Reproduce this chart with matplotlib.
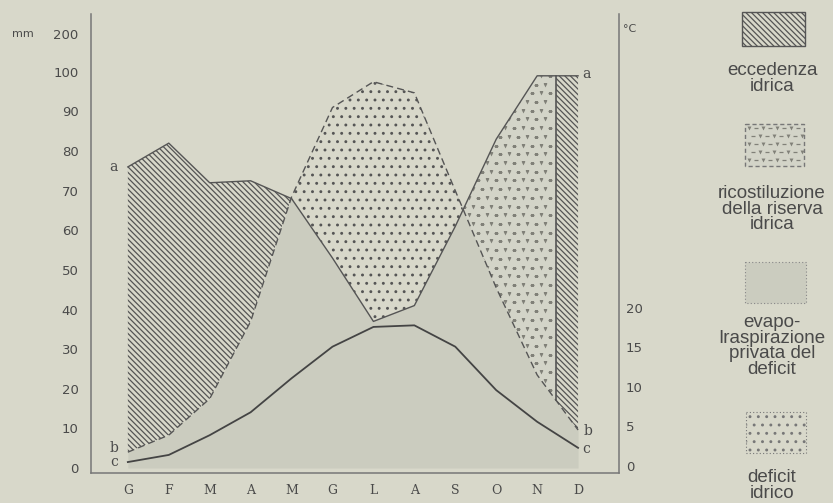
import matplotlib.pyplot as plt
import numpy as np
from matplotlib.patches import Rectangle

# --- data ----------------------------------------------------------------
months = ["G", "F", "M", "A", "M", "G", "L", "A", "S", "O", "N", "D"]
precip_mm = [76, 82, 72, 72.5, 68, 53, 37, 41, 61, 83, 99, 99]             # curve a
pet_mm = [4, 8.3, 17.5, 37, 68.4, 91, 97.5, 94.7, 70, 45.5, 23.5, 9.6]     # curve b
temp_c = [0.5, 1.4, 3.9, 6.8, 11.1, 15.1, 17.6, 17.8, 15.1, 9.6, 5.6, 2.3]  # curve c
reserve_full_x = 10.45  # month position where the soil reserve is refilled

mm_ticks = [0, 10, 20, 30, 40, 50, 60, 70, 80, 90, 100, 109.6]
mm_labels = ["0", "10", "20", "30", "40", "50", "60", "70", "80", "90", "100", "200"]
c_ticks = [0, 5, 10, 15, 20]
legend_labels = [
    "eccedenza\nidrica",
    "ricostiluzione\ndella riserva\nidrica",
    "evapo-\nIraspirazione\nprivata del\ndeficit",
    "deficit\nidrico",
]

BG = "#d8d8ca"
SHADE = "#cbccbf"
INK = "#555555"
TEXT = "#4a4a4a"
HATCH = "\\" * 6

plt.rcParams["hatch.color"] = INK
plt.rcParams["hatch.linewidth"] = 0.9

x = np.arange(len(months))
P = np.array(precip_mm)
E = np.array(pet_mm)

fig = plt.figure(figsize=(8.33, 5.03), dpi=100, facecolor=BG)
ax = fig.add_axes([91 / 833, 30 / 503, 528 / 833, 459 / 503])
ax.set_facecolor(BG)
ax.set_xlim(-0.9, 12.0)
ax.set_ylim(-1.26, 114.6)


def texture(axis, x0, x1, y0, y1, dx, dy, clip_path, color, size):
    """Little triangles and dashes used for the 'ricostituzione' pattern."""
    cols = np.arange(x0, x1, dx)
    rows = np.arange(y0, y1, dy)
    xs_v, ys_v, xs_d, ys_d = [], [], [], []
    for r, yy in enumerate(rows):
        shift = dx / 2 if r % 2 else 0
        for c, xx in enumerate(cols):
            if (c + r) % 2 == 0:
                xs_v.append(xx + shift)
                ys_v.append(yy)
            else:
                xs_d.append(xx + shift)
                ys_d.append(yy)
    a = axis.scatter(xs_v, ys_v, marker="v", s=size, color=color, linewidths=0, zorder=3)
    b = axis.scatter(xs_d, ys_d, marker="_", s=size, color=color, linewidths=0.9, zorder=3)
    for art in (a, b):
        art.set_clip_path(clip_path)


# evapotraspirazione (soft grey under PET)
ax.fill_between(x, 0, E, color=SHADE, lw=0, zorder=1)

# eccedenza Jan-May
ax.fill_between(x[:5], P[:5], E[:5], where=P[:5] >= E[:5], interpolate=True,
                facecolor=BG, edgecolor=INK, hatch=HATCH, lw=0, zorder=2)

# deficit idrico
ax.fill_between(x, E, P, where=E >= P, interpolate=True,
                facecolor=BG, edgecolor=INK, hatch="..", lw=0, zorder=2)

# autumn surplus: recharge left of reserve_full_x, excess right of it
recharge = ax.fill_between(x[8:], P[8:], E[8:], where=P[8:] >= E[8:], interpolate=True,
                           facecolor="#d3d4c8", lw=0, zorder=2)
recharge.set_clip_path(Rectangle((-5, -10), reserve_full_x + 5, 200, transform=ax.transData))
excess = ax.fill_between(x[8:], P[8:], E[8:], where=P[8:] >= E[8:], interpolate=True,
                         facecolor=BG, edgecolor=INK, hatch=HATCH, lw=0, zorder=2)
excess.set_clip_path(Rectangle((reserve_full_x, -10), 5, 200, transform=ax.transData))
texture(ax, 8.0, reserve_full_x - 0.1, 0, 105, 0.22, 2.2,
        (recharge.get_paths()[0], ax.transData), "#808078", 8)

# curves
ax.plot(x, P, color=INK, lw=1.0, zorder=4)
ax.plot(x, E, color=INK, lw=1.0, ls=(0, (5, 3)), zorder=4)
ax.plot([reserve_full_x, reserve_full_x],
        [np.interp(reserve_full_x, x, E), np.interp(reserve_full_x, x, P)],
        color=INK, lw=1.2, zorder=4)

ax.set_xticks(x)
ax.set_xticklabels(months, family="DejaVu Serif", fontsize=9, color=TEXT)
ax.set_yticks(mm_ticks)
ax.set_yticklabels(mm_labels, fontsize=9.5, color=TEXT)
ax.tick_params(axis="y", length=0, pad=9)
ax.tick_params(axis="x", length=0, pad=8)
for side in ("top", "right"):
    ax.spines[side].set_visible(False)
for side in ("left", "bottom"):
    ax.spines[side].set_color("#777777")
    ax.spines[side].set_linewidth(1.1)

# temperature on the right axis
ax2 = ax.twinx()
ax2.set_ylim(-0.886, 57.2)
ax2.plot(x, temp_c, color="#444444", lw=1.3, zorder=4)
ax2.set_yticks(c_ticks)
ax2.set_yticklabels([str(t) for t in c_ticks], fontsize=9.5, color=TEXT)
ax2.tick_params(axis="y", length=0, pad=5)
for side in ("top", "left", "bottom"):
    ax2.spines[side].set_visible(False)
ax2.spines["right"].set_color("#777777")
ax2.spines["right"].set_linewidth(1.1)

# curve letters
lab = dict(family="DejaVu Serif", fontsize=10, color=TEXT, va="center")
ax.annotate("a", (x[0], P[0]), xytext=(-7, 0), textcoords="offset points", ha="right", **lab)
ax.annotate("b", (x[0], E[0]), xytext=(-7, 3), textcoords="offset points", ha="right", **lab)
ax2.annotate("c", (x[0], temp_c[0]), xytext=(-7, 0), textcoords="offset points", ha="right", **lab)
ax.annotate("a", (x[-1], P[-1]), xytext=(3, 1), textcoords="offset points", ha="left", **lab)
ax.annotate("b", (x[-1], E[-1]), xytext=(4, -1), textcoords="offset points", ha="left", **lab)
ax2.annotate("c", (x[-1], temp_c[-1]), xytext=(3, -1), textcoords="offset points", ha="left", **lab)

fig.text(12 / 833, 1 - 34 / 503, "mm", fontsize=8, color=TEXT, va="center")
fig.text(623 / 833, 1 - 29 / 503, "°C", fontsize=8, color=TEXT, va="center")

# legend column, laid out in pixel units
lg = fig.add_axes([680 / 833, 0, 153 / 833, 1])
lg.set_xlim(680, 833)
lg.set_ylim(503, 0)
lg.axis("off")

lg.add_patch(Rectangle((742, 12), 63, 34, facecolor=BG, edgecolor=INK, lw=1.0, hatch=HATCH))
sw2 = Rectangle((745, 124), 59, 42, facecolor="#d3d4c8", edgecolor="#777777", lw=1.0, ls=(0, (3, 2)))
lg.add_patch(sw2)
texture(lg, 749, 802, 128, 165, 7, 8, sw2, "#808078", 8)
lg.add_patch(Rectangle((745, 262), 61, 41, facecolor=SHADE, edgecolor="#888888", lw=0.8, ls=(0, (1, 2))))
lg.add_patch(Rectangle((746, 412), 60, 41, facecolor=BG, edgecolor="#777777", lw=0.8, ls=(0, (1, 2)), hatch=".."))

for label, yc in zip(legend_labels, [78.5, 209, 346, 485.5]):
    lg.text(772, yc, label, ha="center", va="center", multialignment="center",
            family="Liberation Sans", fontsize=13.5, color=TEXT, linespacing=0.92)

fig.savefig("out.png", dpi=100, facecolor=BG)
